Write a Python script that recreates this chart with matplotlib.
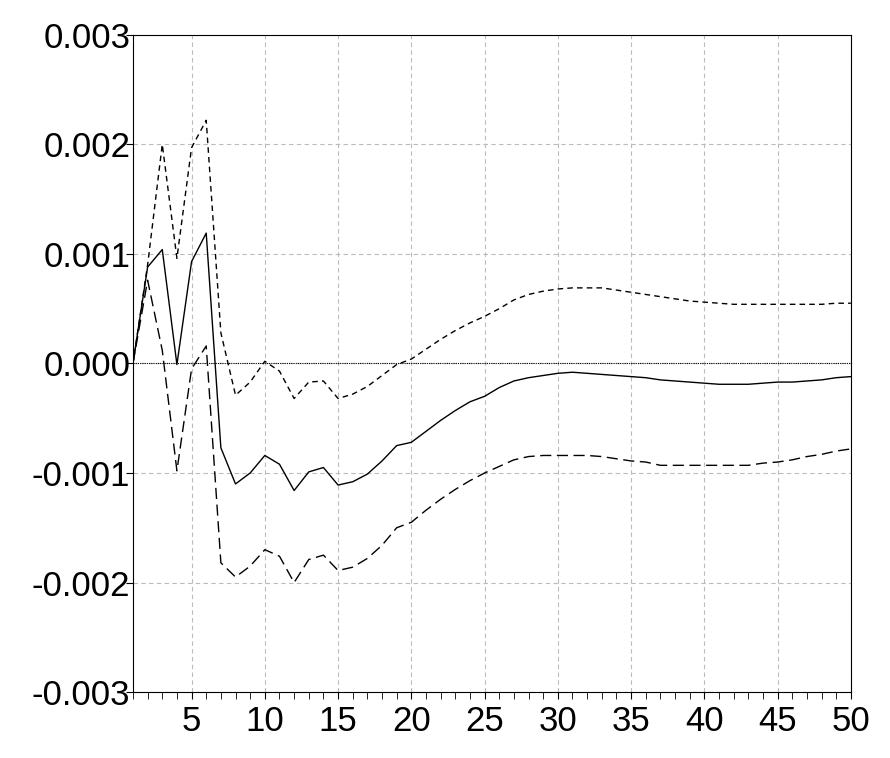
import matplotlib
matplotlib.use("Agg")
import matplotlib.pyplot as plt
import numpy as np

plt.rcParams['font.family'] = ['Liberation Sans', 'DejaVu Sans']

periods = list(range(1, 51))
response = [0, 0.00088, 0.00104, -0.00001, 0.00093, 0.00119, -0.00077, -0.00110, -0.00100, -0.00084,
            -0.00092, -0.00116, -0.00099, -0.00095, -0.00111, -0.00108, -0.00101, -0.00089, -0.00075, -0.00072,
            -0.00062, -0.00052, -0.00043, -0.00035, -0.00030, -0.00022, -0.00016, -0.00013, -0.00011, -0.00009,
            -0.00008, -0.00009, -0.00010, -0.00011, -0.00012, -0.00013, -0.00015, -0.00016, -0.00017, -0.00018,
            -0.00019, -0.00019, -0.00019, -0.00018, -0.00017, -0.00017, -0.00016, -0.00015, -0.00013, -0.00012]
upper = [0, 0.00090, 0.00200, 0.00096, 0.00197, 0.00222, 0.00028, -0.00029, -0.00017, 0.00002,
         -0.00007, -0.00032, -0.00017, -0.00016, -0.00032, -0.00028, -0.00021, -0.00011, -0.00001, 0.00004,
         0.00013, 0.00022, 0.00030, 0.00037, 0.00043, 0.00050, 0.00058, 0.00063, 0.00066, 0.00068,
         0.00069, 0.00069, 0.00069, 0.00067, 0.00065, 0.00063, 0.00061, 0.00059, 0.00057, 0.00056,
         0.00055, 0.00054, 0.00054, 0.00054, 0.00054, 0.00054, 0.00054, 0.00054, 0.00055, 0.00055]
lower = [0, 0.00076, 0.00012, -0.00098, -0.00005, 0.00016, -0.00182, -0.00195, -0.00185, -0.00170,
         -0.00176, -0.00200, -0.00179, -0.00175, -0.00189, -0.00186, -0.00178, -0.00166, -0.00150, -0.00145,
         -0.00134, -0.00124, -0.00115, -0.00107, -0.00100, -0.00094, -0.00088, -0.00085, -0.00084, -0.00084,
         -0.00084, -0.00084, -0.00085, -0.00087, -0.00089, -0.00090, -0.00093, -0.00093, -0.00093, -0.00093,
         -0.00093, -0.00093, -0.00093, -0.00091, -0.00090, -0.00088, -0.00085, -0.00083, -0.00080, -0.00078]

yticks = [0.003, 0.002, 0.001, 0.0, -0.001, -0.002, -0.003]
ylabels = ['0.003', '0.002', '0.001', '0.000', '-0.001', '-0.002', '-0.003']
xticks = [5, 10, 15, 20, 25, 30, 35, 40, 45, 50]

fig = plt.figure(figsize=(8.9, 7.58), dpi=100)
ax = fig.add_axes([0.1494, 0.087, 0.8066, 0.867])
ax.plot(periods, upper, color='black', lw=1, ls=(0, (4, 3)))
ax.plot(periods, lower, color='black', lw=1, ls=(0, (8, 4)))
ax.plot(periods, response, color='black', lw=1)
ax.axhline(0, color='black', lw=0.8, ls=(0, (1, 1)))
ax.set_xlim(1, 50)
ax.set_ylim(-0.003, 0.003)
ax.set_yticks(yticks)
ax.set_yticklabels(ylabels)
ax.set_xticks(xticks)
ax.set_xticks(periods, minor=True)
ax.grid(True, color='#bbbbbb', ls=(0, (4, 3)), lw=0.8)
ax.tick_params(axis='both', labelsize=25, direction='out', length=5, pad=-3)
ax.tick_params(axis='x', which='minor', length=5)
ax.tick_params(axis='x', pad=4)
for s in ax.spines.values():
    s.set_linewidth(0.8)
fig.savefig('out.png', dpi=100)
